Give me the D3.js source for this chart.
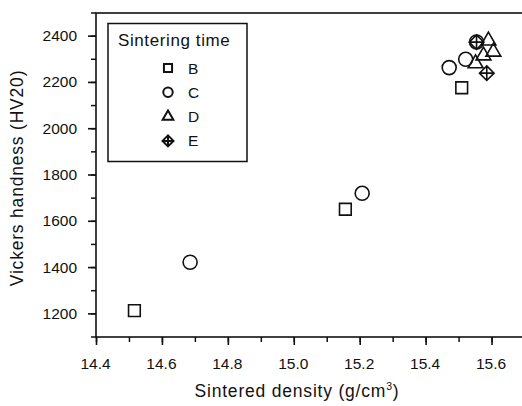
<!DOCTYPE html>
<html><head><meta charset="utf-8">
<script src="https://cdn.jsdelivr.net/npm/d3@7"></script>
<style>body{margin:0;background:#fff;} svg{display:block;} text{font-family:"Liberation Sans",Arial,sans-serif;fill:#111;}</style>
</head><body><svg id="c" width="522" height="406"></svg>
<script>
// ---- data ----
const categories = ["B", "C", "D", "E"];
const densityB = [14.515, 15.155, 15.508];
const hardnessB = [1214, 1652, 2177];
const densityC = [14.684, 15.206, 15.470, 15.520, 15.553];
const hardnessC = [1423, 1721, 2264, 2300, 2375];
const densityD = [15.589, 15.604, 15.574, 15.550];
const hardnessD = [2380, 2332, 2316, 2282];
const densityE = [15.553, 15.584];
const hardnessE = [2374, 2240];
const xTicks = [14.4, 14.6, 14.8, 15.0, 15.2, 15.4, 15.6];
const yTicks = [1200, 1400, 1600, 1800, 2000, 2200, 2400];
const legendTitle = "Sintering time";
const xTitle = "Sintered density (g/cm";
const yTitle = "Vickers handness (HV20)";

const series = [
  {name: "B", x: densityB, y: hardnessB},
  {name: "C", x: densityC, y: hardnessC},
  {name: "D", x: densityD, y: hardnessD},
  {name: "E", x: densityE, y: hardnessE}
];

const svg = d3.select("#c");
const x = d3.scaleLinear().domain([14.4, 15.7]).range([96.5, 525]);
const y = d3.scaleLinear().domain([1100, 2500]).range([337, 13]);
const ink = "#111";

// frame
svg.append("rect").attr("x", 96).attr("y", 13).attr("width", 429).attr("height", 324)
  .attr("fill", "none").attr("stroke", ink).attr("stroke-width", 1.6);

// x axis
const xMinor = d3.range(14.4, 15.66, 0.1).map(v => +v.toFixed(1));
const gx = svg.append("g").attr("transform", "translate(0,337)");
gx.selectAll("line.mi").data(xMinor).join("line")
  .attr("x1", d => x(d)).attr("x2", d => x(d)).attr("y1", 0).attr("y2", 5)
  .attr("stroke", ink).attr("stroke-width", 1.5);
gx.selectAll("line.ma").data(xTicks).join("line")
  .attr("x1", d => x(d)).attr("x2", d => x(d)).attr("y1", 0).attr("y2", 8)
  .attr("stroke", ink).attr("stroke-width", 1.6);
gx.selectAll("text").data(xTicks).join("text")
  .attr("x", d => x(d) - 1).attr("y", 32).attr("text-anchor", "middle")
  .attr("font-size", 15.5).text(d => d3.format(".1f")(d));

// y axis
const yMinor = d3.range(1100, 2501, 100);
const gy = svg.append("g").attr("transform", "translate(96,0)");
gy.selectAll("line.mi").data(yMinor).join("line")
  .attr("x1", -5).attr("x2", 0).attr("y1", d => y(d)).attr("y2", d => y(d))
  .attr("stroke", ink).attr("stroke-width", 1.5);
gy.selectAll("line.ma").data(yTicks).join("line")
  .attr("x1", -8).attr("x2", 0).attr("y1", d => y(d)).attr("y2", d => y(d))
  .attr("stroke", ink).attr("stroke-width", 1.6);
gy.selectAll("text").data(yTicks).join("text")
  .attr("x", -19).attr("y", d => y(d) + 5).attr("text-anchor", "end")
  .attr("font-size", 15.5).text(d => d);

// axis titles
const xt = svg.append("text").attr("x", 297).attr("y", 397).attr("text-anchor", "middle")
  .attr("font-size", 17.5).attr("letter-spacing", 0.8);
xt.append("tspan").text(xTitle);
xt.append("tspan").attr("font-size", 10.5).attr("dy", -7).text("3");
xt.append("tspan").attr("dy", 7).text(")");

svg.append("text").attr("transform", "translate(23,178) rotate(-90)")
  .attr("text-anchor", "middle").attr("font-size", 17.5).attr("letter-spacing", 0.8).text(yTitle);

// symbols
function diamondCross(r) {
  return `M0,${-r}L${r},0L0,${r}L${-r},0Z M0,${-r}V${r} M${-r},0H${r}`;
}
function symbolPath(name, big) {
  if (name === "B") return d3.symbol(d3.symbolSquare, big ? 137 : 66)();
  if (name === "C") return d3.symbol(d3.symbolCircle, big ? 154 : 70)();
  if (name === "D") return d3.symbol(d3.symbolTriangle, big ? 95 : 50)();
  return diamondCross(big ? 7.3 : 5.5);
}

const gp = svg.append("g");
series.forEach(s => {
  const pts = s.x.map((v, i) => [v, s.y[i]]);
  gp.selectAll(null).data(pts).join("path")
    .attr("transform", d => `translate(${x(d[0])},${y(d[1])})`)
    .attr("d", symbolPath(s.name, true))
    .attr("fill", "none").attr("stroke", ink).attr("stroke-width", 1.6);
});

// legend
const lg = svg.append("g");
lg.append("rect").attr("x", 108).attr("y", 23.5).attr("width", 139).attr("height", 138)
  .attr("fill", "#fff").attr("stroke", ink).attr("stroke-width", 1.5);
lg.append("text").attr("x", 118).attr("y", 46).attr("font-size", 17).attr("letter-spacing", 0.6).text(legendTitle);
categories.forEach((c, i) => {
  const cy = 68 + i * 24.3;
  lg.append("path").attr("transform", `translate(168,${cy})`)
    .attr("d", symbolPath(c, false))
    .attr("fill", "none").attr("stroke", ink).attr("stroke-width", 2);
  lg.append("text").attr("x", 188).attr("y", cy + 5.5).attr("font-size", 15.5).text(c);
});
</script></body></html>
